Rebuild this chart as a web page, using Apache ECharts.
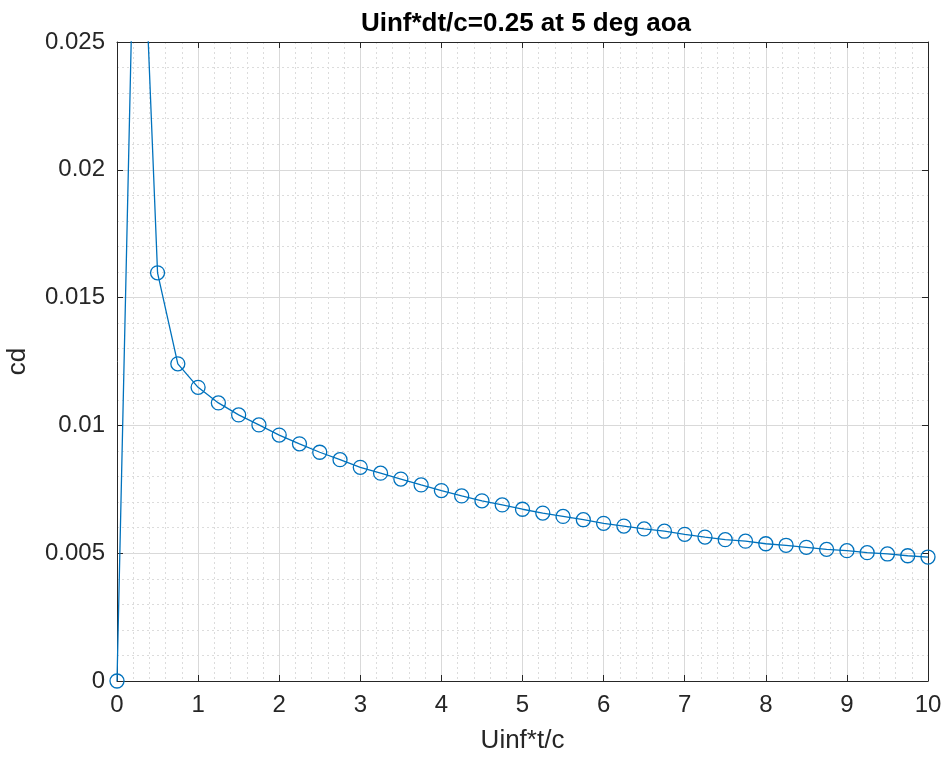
<!DOCTYPE html>
<html>
<head>
<meta charset="utf-8">
<script src="https://cdn.jsdelivr.net/npm/echarts@6/dist/echarts.min.js"></script>
<style>
  html, body { margin: 0; padding: 0; background: #fff; }
  #chart { width: 945px; height: 760px; }
</style>
</head>
<body>
<div id="chart"></div>
<script>
// time values Uinf*t/c
var times = [0, 0.25, 0.5, 0.75, 1, 1.25, 1.5, 1.75, 2, 2.25, 2.5, 2.75, 3, 3.25, 3.5, 3.75,
  4, 4.25, 4.5, 4.75, 5, 5.25, 5.5, 5.75, 6, 6.25, 6.5, 6.75, 7, 7.25, 7.5, 7.75,
  8, 8.25, 8.5, 8.75, 9, 9.25, 9.5, 9.75, 10];
// drag coefficient
var cdValues = [0, 0.0357, 0.01597, 0.01241, 0.01149, 0.01088, 0.01041, 0.01002, 0.00962, 0.00928,
  0.00895, 0.00866, 0.00836, 0.00813, 0.00790, 0.00767, 0.00745, 0.00724, 0.00705, 0.00689,
  0.00672, 0.00657, 0.00644, 0.00631, 0.00617, 0.00606, 0.00595, 0.00586, 0.00574, 0.00563,
  0.00553, 0.00547, 0.00537, 0.00531, 0.00523, 0.00515, 0.00510, 0.00502, 0.00497, 0.00490, 0.00485];

var chart = echarts.init(document.getElementById('chart'));

var textColor = '#262626';
var fontFam = 'Liberation Sans, Arial, sans-serif';

var points = times.map(function(t, i) {
  return [t, cdValues[i]];
});

// top / right axes only to close the box with inward ticks
function boxAxis(pos, min, max, interval) {
  return {
    type: 'value',
    position: pos,
    min: min,
    max: max,
    interval: interval,
    axisLine: { show: true, onZero: false, lineStyle: { color: textColor, width: 1 } },
    axisTick: { show: true, inside: true, length: 6, lineStyle: { color: textColor } },
    axisLabel: { show: false },
    splitLine: { show: false }
  };
}

chart.setOption({
  backgroundColor: '#fff',
  animation: false,
  title: {
    text: 'Uinf*dt/c=0.25 at 5 deg aoa',
    left: 521,
    textAlign: 'center',
    top: 6,
    textStyle: { fontFamily: fontFam, fontSize: 26, fontWeight: 'bold', color: '#000' }
  },
  grid: { left: 117, right: 17, top: 42, bottom: 79, containLabel: false, outerBoundsMode: 'none' },
  xAxis: [{
    type: 'value',
    min: 0,
    max: 10,
    interval: 1,
    name: 'Uinf*t/c',
    nameLocation: 'middle',
    nameGap: 47,
    nameTextStyle: { fontFamily: fontFam, fontSize: 26, color: textColor },
    axisLine: { show: true, onZero: false, lineStyle: { color: textColor, width: 1 } },
    axisTick: { show: true, inside: true, length: 6, lineStyle: { color: textColor } },
    axisLabel: { margin: 12, fontFamily: fontFam, fontSize: 24, color: textColor },
    splitLine: { show: true, lineStyle: { color: '#d9d9d9', width: 1 } },
    minorTick: { show: false, splitNumber: 5 },
    minorSplitLine: { show: true, lineStyle: { color: '#dcdcdc', type: [2, 3], width: 1 } }
  }, boxAxis('top', 0, 10, 1)],
  yAxis: [{
    type: 'value',
    min: 0,
    max: 0.025,
    interval: 0.005,
    name: 'cd',
    nameLocation: 'middle',
    nameGap: 86,
    nameTextStyle: { fontFamily: fontFam, fontSize: 26, color: textColor },
    axisLine: { show: true, onZero: false, lineStyle: { color: textColor, width: 1 } },
    axisTick: { show: true, inside: true, length: 6, lineStyle: { color: textColor } },
    axisLabel: {
      margin: 12,
      fontFamily: fontFam,
      fontSize: 24,
      color: textColor,
      formatter: function(v) { return String(+v.toFixed(4)); }
    },
    splitLine: { show: true, lineStyle: { color: '#d9d9d9', width: 1 } },
    minorTick: { show: false, splitNumber: 5 },
    minorSplitLine: { show: true, lineStyle: { color: '#dcdcdc', type: [2, 3], width: 1 } }
  }, boxAxis('right', 0, 0.025, 0.005)],
  series: [{
    type: 'line',
    data: points,
    clip: true,
    symbol: 'circle',
    symbolSize: 14,
    showAllSymbol: true,
    lineStyle: { color: '#0072BD', width: 1.3 },
    itemStyle: { color: 'rgba(0,0,0,0)', borderColor: '#0072BD', borderWidth: 1.3 }
  }]
});
</script>
</body>
</html>
